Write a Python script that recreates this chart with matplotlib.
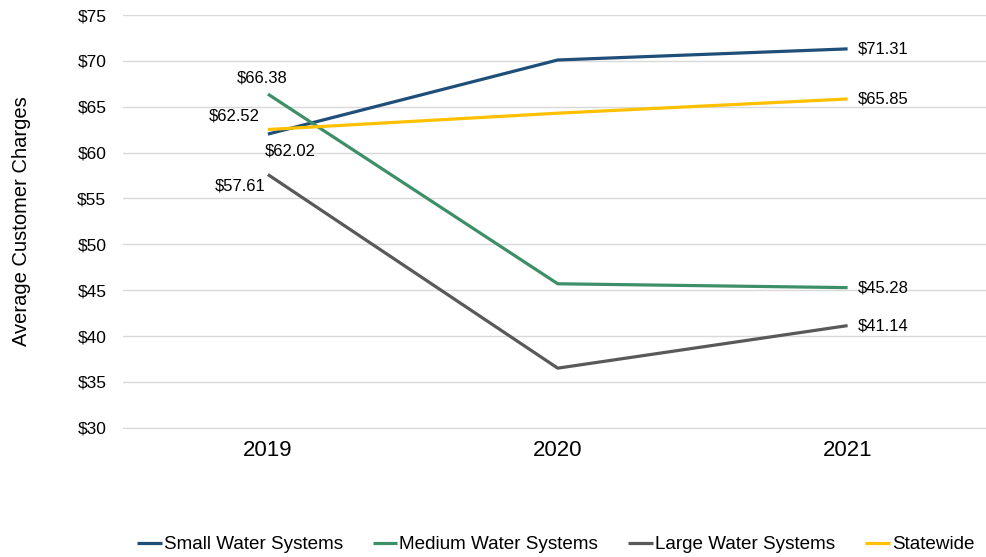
import matplotlib.pyplot as plt

plt.rcParams['font.family'] = ['Liberation Sans', 'DejaVu Sans']

years = ['2019', '2020', '2021']
small = [62.02, 70.1, 71.31]
medium = [66.38, 45.7, 45.28]
large = [57.61, 36.5, 41.14]
statewide = [62.52, 64.3, 65.85]

series = [
    ('Small Water Systems', small, '#1f4e79'),
    ('Medium Water Systems', medium, '#3d8f68'),
    ('Large Water Systems', large, '#595959'),
    ('Statewide', statewide, '#ffc000'),
]

fig = plt.figure(figsize=(9.87, 5.57), dpi=100)
ax = fig.add_axes([0.1246, 0.232, 0.881, 0.741])

x = list(range(len(years)))
for name, vals, col in series:
    ax.plot(x, vals, color=col, lw=2.3, label=name, solid_capstyle='butt')

# labels at first point
fs = 12
ax.annotate(f'${medium[0]:.2f}', (0, medium[0]), xytext=(-4, 6), textcoords='offset points',
            ha='center', va='bottom', fontsize=fs)
ax.annotate(f'${statewide[0]:.2f}', (0, statewide[0]), xytext=(-6, 4), textcoords='offset points',
            ha='right', va='bottom', fontsize=fs)
ax.annotate(f'${small[0]:.2f}', (0, small[0]), xytext=(16, -7), textcoords='offset points',
            ha='center', va='top', fontsize=fs)
ax.annotate(f'${large[0]:.2f}', (0, large[0]), xytext=(-2, -3), textcoords='offset points',
            ha='right', va='top', fontsize=fs)
# labels at last point
for name, vals, col in series:
    ax.annotate(f'${vals[-1]:.2f}', (2, vals[-1]), xytext=(7, 0), textcoords='offset points',
                ha='left', va='center', fontsize=fs)

ax.set_xlim(-0.5, 2.5)
ax.set_ylim(30, 75)
ax.set_yticks(range(30, 80, 5))
ax.set_yticklabels([f'${v}' for v in range(30, 80, 5)])
ax.set_xticks(x)
ax.set_xticklabels(years, fontsize=16)
ax.tick_params(axis='y', labelsize=12.5, length=0, pad=12)
ax.tick_params(axis='x', length=0, pad=9)
ax.yaxis.grid(True, color='#d9d9d9', lw=1)
ax.set_axisbelow(True)
for s in ['top', 'right', 'left']:
    ax.spines[s].set_visible(False)
ax.spines['bottom'].set_color('#d9d9d9')
ax.set_ylabel('Average Customer Charges', fontsize=14.5, labelpad=33)

fig.legend(*ax.get_legend_handles_labels(), loc='center', bbox_to_anchor=(0.563, 0.022), ncol=4,
           frameon=False, fontsize=13.6, handlelength=1.3, handletextpad=0.1, columnspacing=1.6)

fig.savefig('out.png', dpi=100)
